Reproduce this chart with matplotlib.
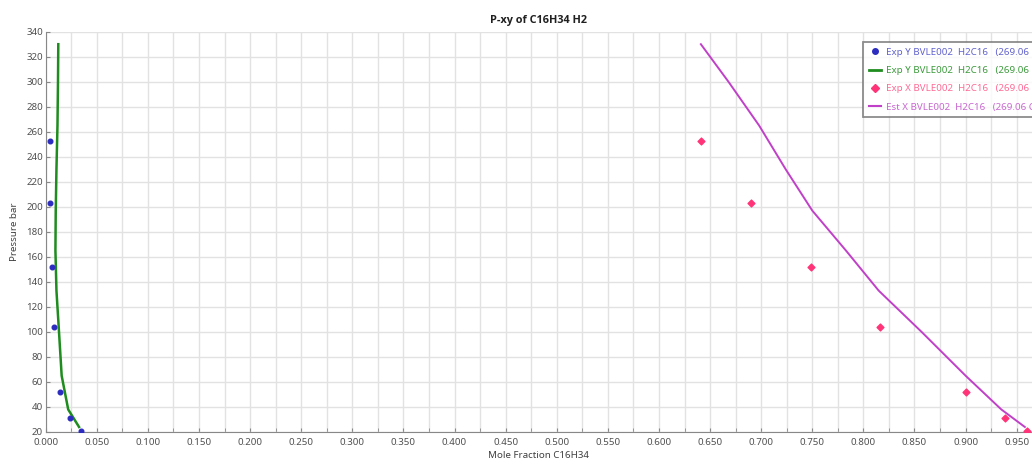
import matplotlib.pyplot as plt
from matplotlib.ticker import MultipleLocator, FormatStrFormatter
from matplotlib.lines import Line2D

plt.rcParams['font.family'] = ['Noto Sans', 'DejaVu Sans']

# Experimental vapour phase (y) points
exp_y_x = [0.0045, 0.0045, 0.0059, 0.0078, 0.0143, 0.0235, 0.0345]
exp_y_p = [253, 203, 152, 104, 52, 31, 20.8]

# Experimental liquid phase (x) points
exp_x_x = [0.641, 0.690, 0.749, 0.816, 0.900, 0.939, 0.960]
exp_x_p = [253, 203, 152, 104, 52, 31.5, 20.8]

# Estimated curves
est_p = [24, 38, 65, 100, 133, 165, 197, 230, 265, 300, 330]
est_y_x = [0.0326, 0.022, 0.0156, 0.013, 0.0105, 0.0095, 0.0098, 0.0105, 0.0115, 0.012, 0.0123]
est_x_x = [0.958, 0.935, 0.900, 0.857, 0.815, 0.783, 0.750, 0.724, 0.698, 0.668, 0.641]

labels = ['Exp Y BVLE002  H2C16   (269.06 C)',
          'Exp Y BVLE002  H2C16   (269.06 C)',
          'Exp X BVLE002  H2C16   (269.06 C)',
          'Est X BVLE002  H2C16   (269.06 C)']

blue = '#2c2cc0'
green = '#1e8c1e'
pink = '#ff3377'
purple = '#c040c8'

fig = plt.figure(figsize=(10.32, 4.66), dpi=100)
ax = fig.add_axes([0.0443, 0.073, 0.9557, 0.859])

ax.plot(est_y_x, est_p, color=green, lw=1.8, zorder=3)
ax.plot(est_x_x, est_p, color=purple, lw=1.4, zorder=3)
ax.scatter(exp_y_x, exp_y_p, color=blue, s=11, zorder=4)
ax.scatter(exp_x_x, exp_x_p, color=pink, marker='D', s=12, zorder=4)

ax.set_xlim(0, 0.965)
ax.set_ylim(20, 340)
ax.xaxis.set_major_locator(MultipleLocator(0.05))
ax.xaxis.set_minor_locator(MultipleLocator(0.025))
ax.xaxis.set_major_formatter(FormatStrFormatter('%.3f'))
ax.yaxis.set_major_locator(MultipleLocator(20))

ax.grid(True, which='both', color='#e2e2e2', lw=1)
ax.set_axisbelow(True)
for s in ['top', 'right']:
    ax.spines[s].set_visible(False)
for s in ['left', 'bottom']:
    ax.spines[s].set_color('#888888')
ax.tick_params(which='both', direction='in', length=3, color='#888888',
               labelsize=7, labelcolor='#505050')
ax.tick_params(axis='x', pad=4)
ax.tick_params(axis='y', pad=2)

ax.set_xlabel('Mole Fraction C16H34', fontsize=7, color='#404040', labelpad=3)
ax.set_ylabel('Pressure bar', fontsize=7, color='#404040', labelpad=5)
ax.set_title('P-xy of C16H34 H2', fontsize=7.8, fontweight='bold', color='#202020',
             pad=6, family=['Open Sans', 'DejaVu Sans'])

handles = [
    Line2D([], [], color=blue, marker='o', ls='none', markersize=4),
    Line2D([], [], color=green, lw=2),
    Line2D([], [], color=pink, marker='D', ls='none', markersize=4),
    Line2D([], [], color=purple, lw=1.5),
]
leg = fig.legend(handles, labels, loc='upper left',
                 bbox_to_anchor=(863 / 1032, 1 - 42 / 466),
                 fontsize=7, frameon=True, fancybox=False,
                 handlelength=1.3, handletextpad=0.5, labelspacing=0.95,
                 borderpad=0.6, borderaxespad=0)
leg.get_frame().set_edgecolor('#707070')
leg.get_frame().set_linewidth(1.3)
text_colors = ['#6262d0', '#3c9a3c', '#ff6a95', '#c868d0']
for t, c in zip(leg.get_texts(), text_colors):
    t.set_color(c)

fig.savefig('out.png', dpi=100)
